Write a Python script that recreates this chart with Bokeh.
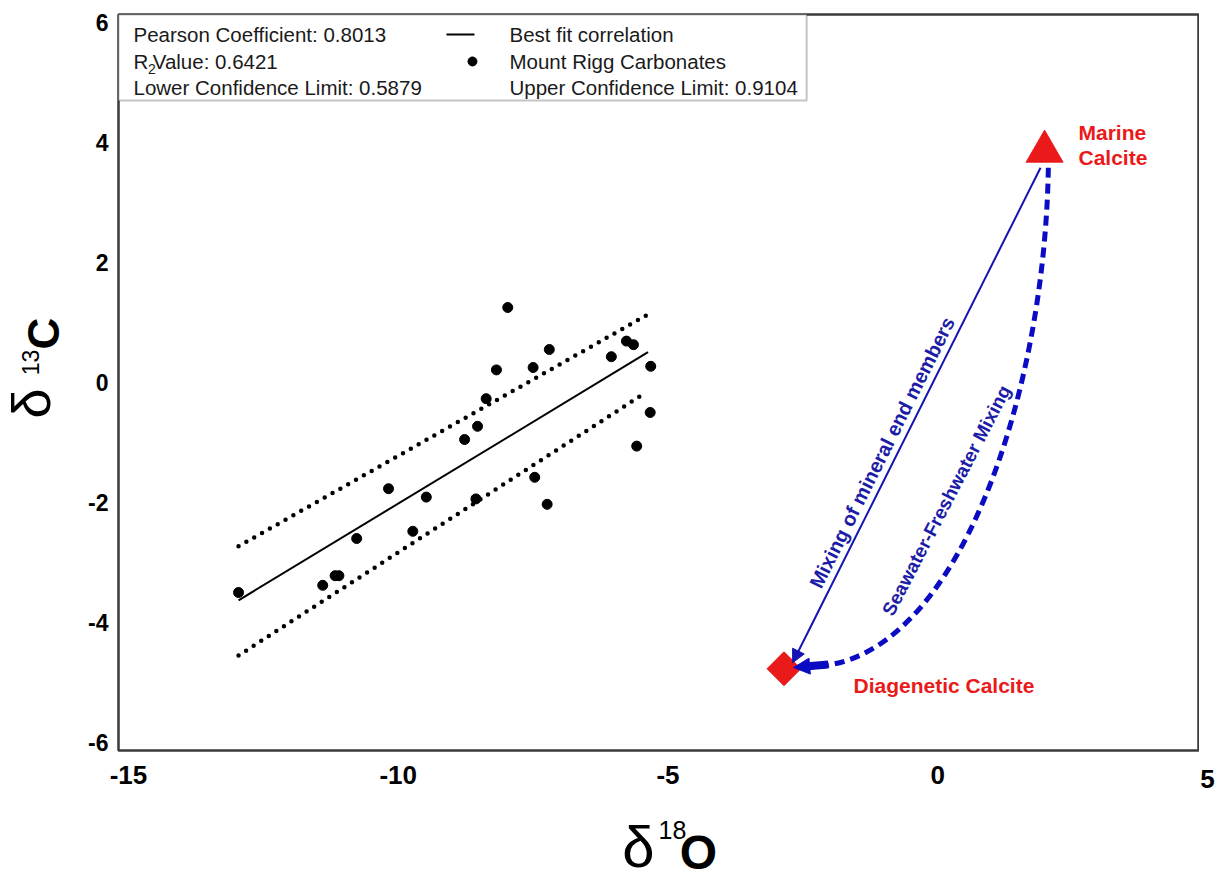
import numpy as np
from bokeh.plotting import figure
from bokeh.layouts import row, column
from bokeh.models import Range1d, Label, Arrow, NormalHead, FixedTicker, BoxAnnotation
from bokeh.core.properties import value
from bokeh.embed import file_html
from bokeh.resources import INLINE

# ---------------- data ----------------
d18O = [-12.96, -11.40, -11.17, -11.10, -10.77, -10.18, -9.73, -9.48, -8.77, -8.56,
        -8.53, -8.37, -8.18, -7.97, -7.50, -7.47, -7.24, -7.20, -6.05, -5.77,
        -5.64, -5.58, -5.32, -5.33]
d13C = [-3.50, -3.38, -3.22, -3.22, -2.60, -1.77, -2.48, -1.91, -0.95, -1.94,
        -0.73, -0.27, 0.21, 1.25, 0.25, -1.58, -2.03, 0.55, 0.43, 0.69,
        0.63, -1.06, 0.27, -0.50]

fit_x = [-12.96, -5.37]
fit_y = [-3.63, 0.505]
ci_x = [-12.96, -5.40]
ci_upper = [-2.73, 1.12]
ci_lower = [-4.55, -0.16]

marine_x, marine_y = [1.98], [3.85]
diag_x, diag_y = [-2.85], [-4.77]

mix_x = [1.905, -2.69]
mix_y = [3.58, -4.67]
sw_x = [2.05, 1.98, 0.33, -2.27]
sw_y = [3.58, -0.30, -4.63, -4.73]
sw_head_x = [-2.03, -2.67]
sw_head_y = [-4.70, -4.75]

x_ticks = [-15, -10, -5, 0, 5]
y_ticks = [-6, -4, -2, 0, 2, 4, 6]

stats_left = ["Pearson Coefficient: 0.8013", "Value: 0.6421", "Lower Confidence Limit: 0.5879"]
stats_right = ["Best fit correlation", "Mount Rigg Carbonates", "Upper Confidence Limit: 0.9104"]

# ---------------- styling ----------------
FONT = "Liberation Sans"
BLUE_T = "#1c1ca6"
BLUE_L = "#1414b4"
BLUE_D = "#0b0bc4"
RED = "#ea1a1a"

XMIN, XMAX = -15.185, 4.833
YMIN, YMAX = -6.133, 6.133

FRAME_L, FRAME_R, FRAME_T, FRAME_B = 118, 1198, 14, 750
W_LEFT = 70      # strip holding the y title
W_RIGHT = 24     # strip holding the last x tick label
W_MAIN = 1223 - W_LEFT - W_RIGHT
H_MAIN = 800
H_BOTTOM = 881 - H_MAIN

p = figure(width=W_MAIN, height=H_MAIN, x_range=Range1d(XMIN, XMAX), y_range=Range1d(YMIN, YMAX),
           output_backend="svg", toolbar_location=None,
           min_border_left=FRAME_L - W_LEFT, min_border_right=1, min_border_top=FRAME_T,
           min_border_bottom=H_MAIN - FRAME_B)
p.background_fill_color = "white"
p.border_fill_color = "white"
p.grid.visible = False
p.outline_line_color = "#3a3a3a"
p.outline_line_width = 2.5

p.xaxis.ticker = FixedTicker(ticks=[t for t in x_ticks if XMIN <= t <= XMAX])
p.yaxis.ticker = FixedTicker(ticks=y_ticks)
p.xaxis.major_label_overrides = {t: str(t) for t in x_ticks}
p.yaxis.major_label_overrides = {t: str(t) for t in y_ticks}
for ax, size, stand in ((p.xaxis, "26px", 15), (p.yaxis, "23px", 10)):
    ax.axis_line_color = None
    ax.major_tick_out = 0
    ax.major_tick_in = 0
    ax.minor_tick_out = 0
    ax.minor_tick_in = 0
    ax.major_label_text_font = FONT
    ax.major_label_text_font_style = "bold"
    ax.major_label_text_font_size = size
    ax.major_label_text_color = "black"
    ax.major_label_standoff = stand


def lab(x, y, text, size, color="black", style="normal", align="left", angle=0.0):
    p.add_layout(Label(x=x, y=y, text=text, text_font=FONT, text_font_size=size,
                       text_color=color, text_font_style=style, text_align=align,
                       text_baseline="middle", angle=angle))

# ---------------- data glyphs ----------------
p.line(ci_x, ci_upper, line_width=4.5, line_dash="0 9", line_cap="round", color="black")
p.line(ci_x, ci_lower, line_width=4.5, line_dash="0 9", line_cap="round", color="black")
p.line(fit_x, fit_y, line_width=2, color="black")
p.scatter(d18O, d13C, size=10, color="black")

p.scatter(marine_x, marine_y, marker="triangle", size=37, color=RED)
p.scatter(diag_x, diag_y, marker="square", size=24, angle=np.pi / 4, color=RED)

p.bezier(x0=[sw_x[0]], y0=[sw_y[0]], cx0=[sw_x[1]], cy0=[sw_y[1]],
         cx1=[sw_x[2]], cy1=[sw_y[2]], x1=[sw_x[3]], y1=[sw_y[3]],
         line_color=BLUE_D, line_width=5, line_dash="10 6")

p.add_layout(Arrow(x_start=mix_x[0], y_start=mix_y[0], x_end=mix_x[1], y_end=mix_y[1],
                   line_color=BLUE_L, line_width=2,
                   end=NormalHead(size=13, fill_color=BLUE_L, line_color=BLUE_L)))
p.add_layout(Arrow(x_start=sw_head_x[0], y_start=sw_head_y[0], x_end=sw_head_x[1], y_end=sw_head_y[1],
                   line_color=BLUE_D, line_width=8,
                   end=NormalHead(size=16, fill_color=BLUE_D, line_color=BLUE_D)))

# ---------------- annotations ----------------
lab(2.609, 4.167, "Marine", "21px", RED, "bold")
lab(2.609, 3.75, "Calcite", "21px", RED, "bold")
lab(-1.562, -5.05, "Diagenetic Calcite", "21px", RED, "bold")
lab(-1.03, -1.167, "Mixing of mineral end members", "20px", BLUE_T, "bold", "center", angle=1.107)
lab(0.162, -1.967, "Seawater-Freshwater Mixing", "19px", BLUE_T, "bold", "center", angle=1.091)

# stats / legend box
p.add_layout(BoxAnnotation(left=XMIN, right=-2.43, top=YMAX, bottom=4.70,
                           fill_color="white", fill_alpha=1.0, level="underlay",
                           line_color="#3a3a3a", line_width=2))
rows = [5.80, 5.35, 4.92]
TXT = "#1a1a1a"
LS = "20.5px"
lab(-14.907, rows[0], stats_left[0], LS, TXT)
lab(-14.907, rows[1], "R", LS, TXT)
lab(-14.64, rows[1] - 0.13, "2", "14px", TXT)
lab(-14.55, rows[1], stats_left[1], LS, TXT)
lab(-14.907, rows[2], stats_left[2], LS, TXT)
lab(-7.938, rows[0], stats_right[0], LS, TXT)
lab(-7.938, rows[1], stats_right[1], LS, TXT)
lab(-7.938, rows[2], stats_right[2], LS, TXT)
p.line([-9.106, -8.587], [rows[0], rows[0]], line_width=2, color="black")
p.scatter([-8.624], [rows[1]], size=9, color="black")


# ---------------- side strips (page-pixel coordinates) ----------------
def strip(w, h, x0, x1, ytop, ybot):
    f = figure(width=w, height=h, x_range=Range1d(x0, x1), y_range=Range1d(ybot, ytop),
               output_backend="svg", toolbar_location=None, x_axis_type=None,
               y_axis_type=None, min_border=0)
    f.outline_line_color = None
    f.grid.visible = False
    f.background_fill_color = "white"
    f.border_fill_color = "white"
    return f


def txt(f, x, y, s, size, style="normal", angle=0.0):
    f.text(x=[x], y=[y], text=[s], text_font=value(FONT), text_font_size=size,
           text_font_style=style, text_align="center", text_baseline="middle",
           angle=angle, text_color="black")


# y title: delta 13 C (reads bottom to top)
yfig = strip(W_LEFT, 881, 0, W_LEFT, 0, 881)
txt(yfig, 30, 403, "δ", "54px", angle=np.pi / 2)
txt(yfig, 30, 362, "13", "23px", angle=np.pi / 2)
txt(yfig, 43, 333, "C", "44px", "bold", angle=np.pi / 2)

# x title: delta 18 O  (this strip's frame is aligned with the main frame)
xfig = strip(W_MAIN, H_BOTTOM, FRAME_L, FRAME_R, H_MAIN, 881)
txt(xfig, 638, 846, "δ", "58px")
txt(xfig, 672, 829, "18", "25px")
txt(xfig, 698, 852, "O", "48px", "bold")

# last x tick label, which sits just past the frame edge
rfig = strip(W_RIGHT, 881, 1223 - W_RIGHT, 1223, 0, 881)
for t in x_ticks:
    if t > XMAX:
        sx = FRAME_L + (t - XMIN) * (FRAME_R - FRAME_L) / (XMAX - XMIN)
        txt(rfig, sx, 778, str(t), "26px", "bold")

layout = row(yfig, column(p, xfig), rfig)
open("out.html", "w").write(file_html(layout, INLINE))
